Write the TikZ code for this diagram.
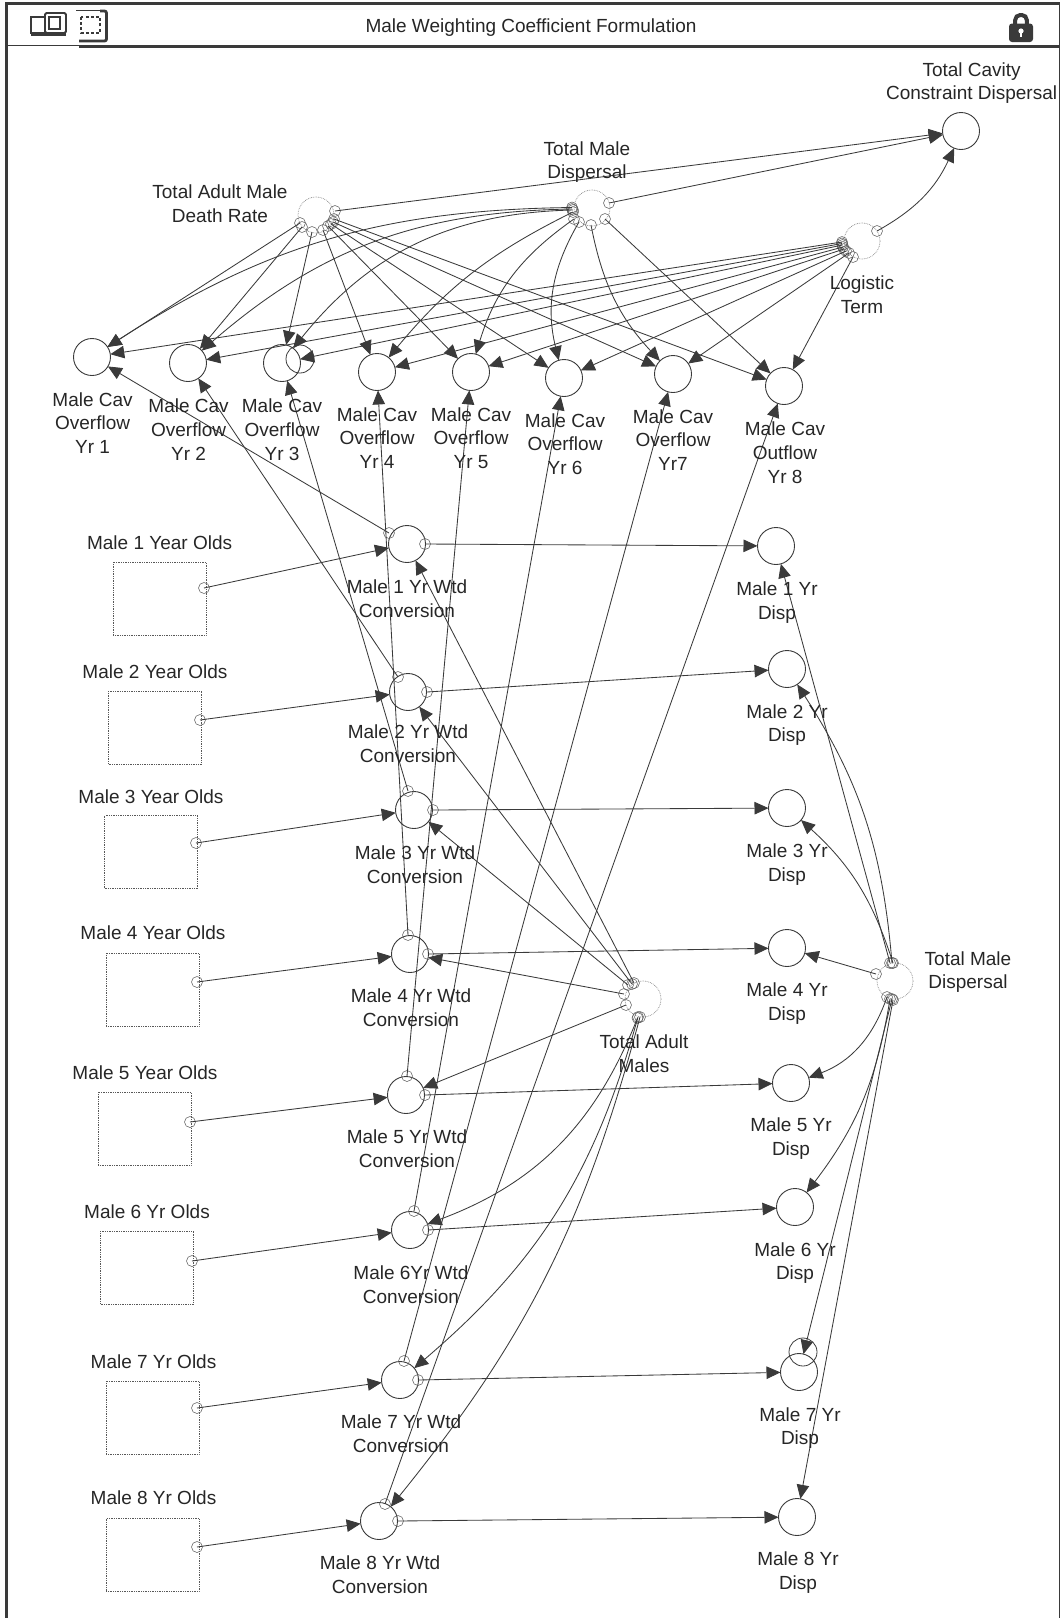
\documentclass[tikz,border=0pt]{standalone}
\usepackage{fontspec}
\setmainfont{Liberation Sans}
\usetikzlibrary{arrows.meta}
\definecolor{ink}{HTML}{3A3A3A}
\definecolor{txt}{HTML}{262626}
\tikzset{
  vnode/.style={circle,draw=ink,line width=0.9pt,minimum size=37pt,inner sep=0pt,outer sep=0pt},
  gcirc/.style={circle,draw=ink,line width=0.8pt,minimum size=28pt,inner sep=0pt,outer sep=0pt},
  ghost/.style={circle,draw=gray,line width=0.7pt,densely dotted,minimum size=36pt,inner sep=0pt,outer sep=0pt},
  ex/.style={circle,draw=ink!80,line width=0.55pt,minimum size=11pt,inner sep=0pt,outer sep=0pt},
  stock/.style={rectangle,draw=ink!85,line width=0.75pt,densely dotted,minimum width=93pt,minimum height=73pt,inner sep=0pt,outer sep=0pt},
  conn/.style={draw=ink,line width=0.85pt,-{Triangle[length=14pt,width=12.5pt,fill=ink]}},
  lab/.style={align=center,inner sep=0pt,text=txt,font=\fontsize{19}{23.7}\selectfont},
  frameline/.style={draw=none,fill=ink}
}
\begin{document}
\begin{tikzpicture}[x=1pt,y=-1pt]
\useasboundingbox (0,0) rectangle (1060,1618);
% frame
\fill[frameline] (5,2.3) rectangle (1060,4.8);
\fill[frameline] (5,2.3) rectangle (7.8,1618);
\fill[frameline] (1059,2.3) rectangle (1060,1618);
\fill[frameline] (79,45) rectangle (1060,47.6);
\fill[frameline] (7.8,44.6) rectangle (79,45.8);
% icons
\draw[ink,line width=1.8pt] (45,17) -- (31,17) -- (31,33) -- (45,33);
\fill[ink] (31,33) rectangle (66,35.5);
\draw[ink,line width=1.8pt,rounded corners=1.5pt] (45,13) rectangle (66,33);
\draw[ink,line width=1.5pt] (49,17) rectangle (60,29);
\draw[ink,line width=1.7pt,dashed,dash pattern=on 3pt off 2.2pt] (81,17) rectangle (100,33);
\draw[ink,line width=1pt] (76,10.5) -- (103,10.5);
\draw[ink,line width=2.8pt,rounded corners=2pt] (79,41) -- (106.5,41) -- (106.5,11) -- (100,11);
% lock
\fill[ink,rounded corners=3pt] (1009,23.5) rectangle (1033,42);
\draw[ink,line width=4pt,rounded corners=5pt] (1015.2,26) -- (1015.2,15) -- (1026.8,15) -- (1026.8,26);
\fill[white] (1021,31) circle (2.6pt);
\fill[white] (1020,31) rectangle (1022,37);
% title
\node[lab] (title) at (531,28) {Male Weighting Coefficient Formulation};
% cavity nodes
\node[vnode] (c1) at (92,357) {};
\node[vnode] (c2) at (188,363) {};
\node[vnode] (c3) at (282,363) {};
\node[gcirc] (c3g) at (300,359) {};
\node[vnode] (c4) at (377,372) {};
\node[vnode] (c5) at (471,372) {};
\node[vnode] (c6) at (564,378) {};
\node[vnode] (c7) at (673,374) {};
\node[vnode] (c8) at (784,386) {};
\node[vnode] (tc) at (961,131) {};
% ghosts
\node[ghost] (gdr) at (316,215) {};
\node[ghost] (gmd) at (592,208) {};
\node[ghost] (glt) at (862,241) {};
\node[ghost] (gam) at (643,999) {};
\node[ghost] (gtd) at (895,981) {};
% stocks
\node[stock] (s1) at (159.5,598.5) {};
\node[stock] (s2) at (155,727.5) {};
\node[stock] (s3) at (151,852) {};
\node[stock] (s4) at (152.5,989.5) {};
\node[stock] (s5) at (144.5,1128.5) {};
\node[stock] (s6) at (147,1267.5) {};
\node[stock] (s7) at (152.5,1417.5) {};
\node[stock] (s8) at (152.5,1555) {};
% wtd conversions
\node[vnode] (w1) at (407,544) {};
\node[vnode] (w2) at (408,692) {};
\node[vnode] (w3) at (414,810) {};
\node[vnode] (w4) at (410,954) {};
\node[vnode] (w5) at (406,1095) {};
\node[vnode] (w6) at (410,1230) {};
\node[vnode] (w7) at (400,1380) {};
\node[vnode] (w8) at (379,1521) {};
% disp
\node[vnode] (d1) at (776,546) {};
\node[vnode] (d2) at (787,669) {};
\node[vnode] (d3) at (787,808) {};
\node[vnode] (d4) at (787,948) {};
\node[vnode] (d5) at (791,1083) {};
\node[vnode] (d6) at (795,1207) {};
\node[vnode] (d7) at (799,1372) {};
\node[gcirc] (d7g) at (803,1352) {};
\node[vnode] (d8) at (797,1517) {};
% exit circles: death rate
\node[ex] (dr0) at (335,211) {};
\node[ex] (dr1) at (300,223) {};
\node[ex] (dr2) at (302,227) {};
\node[ex] (dr3) at (312,232) {};
\node[ex] (dr4) at (323,230) {};
\node[ex] (dr5) at (328,226) {};
\node[ex] (dr6) at (331,224) {};
\node[ex] (dr7) at (333,222) {};
\node[ex] (dr8) at (334,219) {};
% male dispersal
\node[ex] (md0) at (609,203) {};
\node[ex] (md1) at (572,207.5) {};
\node[ex] (md2) at (572,209) {};
\node[ex] (md3) at (573,210) {};
\node[ex] (md4) at (573,212) {};
\node[ex] (md5) at (574,219) {};
\node[ex] (md6) at (579,222) {};
\node[ex] (md7) at (591,225) {};
\node[ex] (md8) at (605,219) {};
% logistic
\node[ex] (lt0) at (877,231) {};
\node[ex] (lt1) at (842,242) {};
\node[ex] (lt2) at (842,243.5) {};
\node[ex] (lt3) at (842.5,245) {};
\node[ex] (lt4) at (843,247) {};
\node[ex] (lt5) at (844,249) {};
\node[ex] (lt6) at (846,251) {};
\node[ex] (lt7) at (849,253) {};
\node[ex] (lt8) at (853,257) {};
% stock exits
\node[ex] (se1) at (204,588) {};
\node[ex] (se2) at (200,720) {};
\node[ex] (se3) at (196,843) {};
\node[ex] (se4) at (197,982) {};
\node[ex] (se5) at (190,1122) {};
\node[ex] (se6) at (192,1261) {};
\node[ex] (se7) at (197,1408) {};
\node[ex] (se8) at (197,1547) {};
% wtd exits right
\node[ex] (wr1) at (425,544) {};
\node[ex] (wr2) at (427,692) {};
\node[ex] (wr3) at (433,810) {};
\node[ex] (wr4) at (428,954) {};
\node[ex] (wr5) at (425,1095) {};
\node[ex] (wr6) at (428,1230) {};
\node[ex] (wr7) at (418,1380) {};
\node[ex] (wr8) at (398,1521) {};
% wtd exits top
\node[ex] (wt1) at (389,533) {};
\node[ex] (wt2) at (398,677) {};
\node[ex] (wt3) at (408,791) {};
\node[ex] (wt4) at (408,935) {};
\node[ex] (wt5) at (407,1076) {};
\node[ex] (wt6) at (414,1211) {};
\node[ex] (wt7) at (404,1361) {};
\node[ex] (wt8) at (385,1504) {};
% adult males exits
\node[ex] (am1) at (634,983) {};
\node[ex] (am2) at (632,984) {};
\node[ex] (am3) at (628,985) {};
\node[ex] (am4) at (624,994) {};
\node[ex] (am5) at (626,1005) {};
\node[ex] (am6) at (637.5,1018) {};
\node[ex] (am7) at (638,1017) {};
\node[ex] (am8) at (640,1017) {};
% total dispersal exits
\node[ex] (td1) at (890,963) {};
\node[ex] (td2) at (892,963) {};
\node[ex] (td3) at (893,963) {};
\node[ex] (td4) at (876,974) {};
\node[ex] (td5) at (887,997) {};
\node[ex] (td6) at (890,999) {};
\node[ex] (td7) at (892,999) {};
\node[ex] (td8) at (893,1000) {};
% connectors: death rate
\draw[conn] (dr0.center) -- (tc);
\draw[conn] (dr1.center) -- (c1);
\draw[conn] (dr2.center) -- (c2);
\draw[conn] (dr3.center) -- (c3);
\draw[conn] (dr4.center) -- (c4);
\draw[conn] (dr5.center) -- (c5);
\draw[conn] (dr6.center) -- (c6);
\draw[conn] (dr7.center) -- (c7);
\draw[conn] (dr8.center) -- (c8);
% male dispersal
\draw[conn] (md0.center) -- (tc);
\draw[conn] (md1.center) to[bend right=16] (c1);
\draw[conn] (md2.center) to[bend right=20] (c2);
\draw[conn] (md3.center) to[bend right=25] (c3);
\draw[conn] (md4.center) to[bend right=12] (c4);
\draw[conn] (md5.center) to[bend right=19] (c5);
\draw[conn] (md6.center) to[bend right=22] (c6);
\draw[conn] (md7.center) to[bend right=16] (c7);
\draw[conn] (md8.center) -- (c8);
% logistic
\draw[conn] (lt0.center) to[bend right=18] (tc);
\draw[conn] (lt1.center) -- (c1);
\draw[conn] (lt2.center) -- (c2);
\draw[conn] (lt3.center) -- (c3);
\draw[conn] (lt4.center) -- (c4);
\draw[conn] (lt5.center) -- (c5);
\draw[conn] (lt6.center) -- (c6);
\draw[conn] (lt7.center) -- (c7);
\draw[conn] (lt8.center) -- (c8);
% stocks to wtd
\draw[conn] (se1.center) -- (w1);
\draw[conn] (se2.center) -- (w2);
\draw[conn] (se3.center) -- (w3);
\draw[conn] (se4.center) -- (w4);
\draw[conn] (se5.center) -- (w5);
\draw[conn] (se6.center) -- (w6);
\draw[conn] (se7.center) -- (w7);
\draw[conn] (se8.center) -- (w8);
% wtd to disp
\draw[conn] (wr1.center) -- (d1);
\draw[conn] (wr2.center) -- (d2);
\draw[conn] (wr3.center) -- (d3);
\draw[conn] (wr4.center) -- (d4);
\draw[conn] (wr5.center) -- (d5);
\draw[conn] (wr6.center) -- (d6);
\draw[conn] (wr7.center) -- (d7);
\draw[conn] (wr8.center) -- (d8);
% wtd to cavity
\draw[conn] (wt1.center) -- (c1);
\draw[conn] (wt2.center) -- (c2);
\draw[conn] (wt3.center) -- (c3);
\draw[conn] (wt4.center) -- (c4);
\draw[conn] (wt5.center) -- (c5);
\draw[conn] (wt6.center) -- (c6);
\draw[conn] (wt7.center) -- (c7);
\draw[conn] (wt8.center) -- (c8);
% adult males
\draw[conn] (am1.center) -- (w1);
\draw[conn] (am2.center) -- (w2);
\draw[conn] (am3.center) -- (w3);
\draw[conn] (am4.center) -- (w4);
\draw[conn] (am5.center) -- (w5);
\draw[conn] (am6.center) to[bend left=24] (w6);
\draw[conn] (am7.center) to[bend left=17] (w7);
\draw[conn] (am8.center) to[bend left=12] (w8);
% total dispersal
\draw[conn] (td1.center) -- (d1);
\draw[conn] (td2.center) to[bend right=14] (d2);
\draw[conn] (td3.center) to[bend right=15] (d3);
\draw[conn] (td4.center) -- (d4);
\draw[conn] (td5.center) to[bend left=25] (d5);
\draw[conn] (td6.center) to[bend left=14] (d6);
\draw[conn] (td7.center) -- (d7);
\draw[conn] (td8.center) -- (d8);
% labels
\node[lab] (Ltc) at (971.6,83) {Total Cavity\\Constraint Dispersal};
\node[lab] (Lmd) at (587,162) {Total Male\\Dispersal};
\node[lab] (Ldr) at (220,203.5) {Total Adult Male\\Death Rate};
\node[lab] (Llt) at (862,295) {Logistic\\Term};
\node[lab] (Lc1) at (92.6,423) {Male Cav\\Overflow\\Yr 1};
\node[lab] (Lc2) at (188.6,429.5) {Male Cav\\Overflow\\Yr 2};
\node[lab] (Lc3) at (282,429.5) {Male Cav\\Overflow\\Yr 3};
\node[lab] (Lc4) at (377,438) {Male Cav\\Overflow\\Yr 4};
\node[lab] (Lc5) at (471,438) {Male Cav\\Overflow\\Yr 5};
\node[lab] (Lc6) at (565,444) {Male Cav\\Overflow\\Yr 6};
\node[lab] (Lc7) at (673,440) {Male Cav\\Overflow\\Yr7};
\node[lab] (Lc8) at (785,452.5) {Male Cav\\Outflow\\Yr 8};
\node[lab] (Ls1) at (159.6,543) {Male 1 Year Olds};
\node[lab] (Ls2) at (155,672) {Male 2 Year Olds};
\node[lab] (Ls3) at (151,797) {Male 3 Year Olds};
\node[lab] (Ls4) at (153,933) {Male 4 Year Olds};
\node[lab] (Ls5) at (145,1073) {Male 5 Year Olds};
\node[lab] (Ls6) at (147,1212) {Male 6 Yr Olds};
\node[lab] (Ls7) at (153.5,1361.5) {Male 7 Yr Olds};
\node[lab] (Ls8) at (153.5,1498) {Male 8 Yr Olds};
\node[lab] (Lw1) at (407,598.5) {Male 1 Yr Wtd\\Conversion};
\node[lab] (Lw2) at (408,744) {Male 2 Yr Wtd\\Conversion};
\node[lab] (Lw3) at (415,864.5) {Male 3 Yr Wtd\\Conversion};
\node[lab] (Lw4) at (411,1008) {Male 4 Yr Wtd\\Conversion};
\node[lab] (Lw5) at (407,1149) {Male 5 Yr Wtd\\Conversion};
\node[lab] (Lw6) at (411,1284.5) {Male 6Yr Wtd\\Conversion};
\node[lab] (Lw7) at (401,1434) {Male 7 Yr Wtd\\Conversion};
\node[lab] (Lw8) at (380,1575) {Male 8 Yr Wtd\\Conversion};
\node[lab] (Ld1) at (777,602.5) {Male 1 Yr\\Disp};
\node[lab] (Ld2) at (787,725) {Male 2 Yr\\Disp};
\node[lab] (Ld3) at (787,864.5) {Male 3 Yr\\Disp};
\node[lab] (Ld4) at (787,1003.5) {Male 4 Yr\\Disp};
\node[lab] (Ld5) at (791,1138.5) {Male 5 Yr\\Disp};
\node[lab] (Ld6) at (795,1263) {Male 6 Yr\\Disp};
\node[lab] (Ld7) at (800,1428) {Male 7 Yr\\Disp};
\node[lab] (Ld8) at (798,1572.5) {Male 8 Yr\\Disp};
\node[lab] (Lam) at (644,1053.5) {Total Adult\\Males};
\node[lab] (Ltd) at (968,972) {Total Male\\Dispersal};
\end{tikzpicture}
\end{document}
